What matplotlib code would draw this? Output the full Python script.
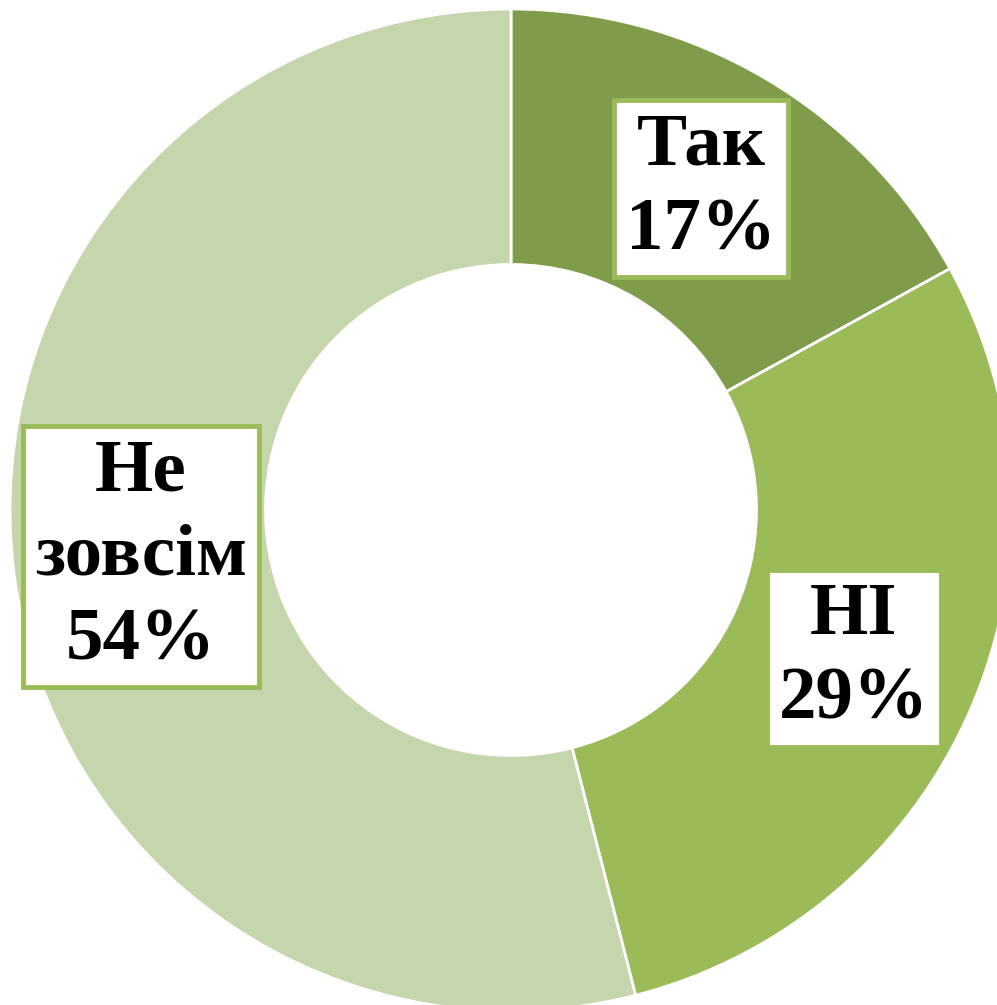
import matplotlib
matplotlib.use("Agg")
import matplotlib.pyplot as plt
import numpy as np

categories = ["Так", "НІ", "Не\nзовсім"]
values = [17, 29, 54]
colors = ["#7F9C4B", "#9BBB59", "#C5D6AC"]
box_edges = ["#9BBB59", "#9BBB59", "#9BBB59"]

W, H = 997, 1005
fig = plt.figure(figsize=(W / 100, H / 100), dpi=100)
ax = fig.add_axes([0, 0, 1, 1])
ax.set_axis_off()

cx, cy, R = 511, 510, 501

wedges, _ = ax.pie(values, colors=colors, startangle=90, counterclock=False,
                   radius=1.0, wedgeprops=dict(width=0.51, edgecolor="white", linewidth=2),
                   frame=False)
ax.set_xlim(-cx / R, (W - cx) / R)
ax.set_ylim(-(H - cy) / R, cy / R)
ax.set_aspect("auto")

for w, cat, val, ec in zip(wedges, categories, values, box_edges):
    ang = np.deg2rad((w.theta1 + w.theta2) / 2)
    r = 0.745
    x, y = r * np.cos(ang), r * np.sin(ang)
    ax.text(x, y, f"{cat}\n{val}%", ha="center", va="center", fontsize=54,
            fontweight="bold", family="Liberation Serif", linespacing=1.32,
            bbox=dict(boxstyle="square,pad=0.16", fc="white", ec=ec, lw=3.5))

fig.savefig("out.png", dpi=100)
